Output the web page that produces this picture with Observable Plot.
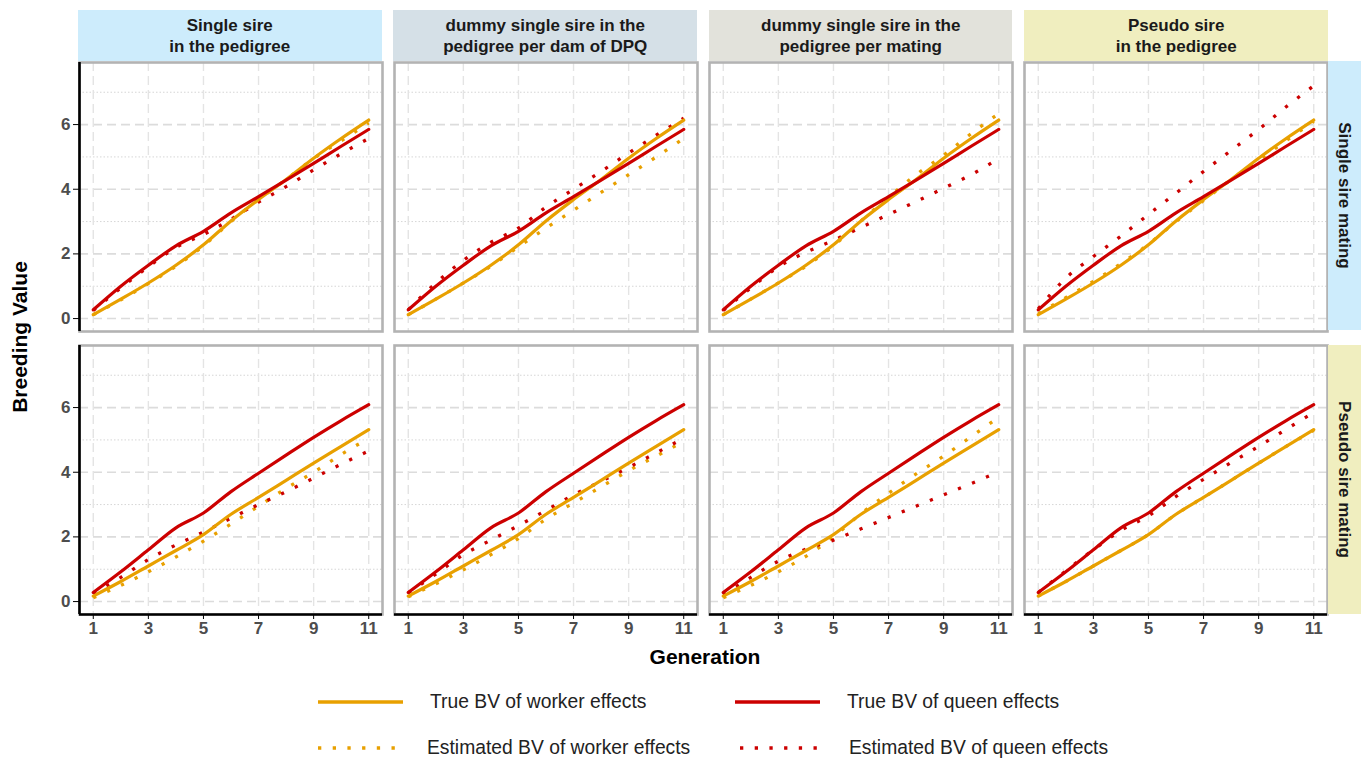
<!DOCTYPE html>
<html>
<head>
<meta charset="utf-8">
<script src="https://cdn.jsdelivr.net/npm/d3@7"></script>
<script src="https://cdn.jsdelivr.net/npm/@observablehq/plot@0.6"></script>
<style>
  html, body { margin: 0; padding: 0; background: #ffffff; }
  #wrap { position: relative; width: 1368px; height: 760px; font-family: "Liberation Sans", Arial, sans-serif; overflow: hidden; }
  #chart { position: absolute; left: 0; top: 0; }
  .strip { position: absolute; display: flex; align-items: center; justify-content: center; text-align: center;
           font-weight: bold; font-size: 17px; line-height: 21px; color: #1a1a1a; }
  .rstrip span { display: inline-block; transform: rotate(90deg); white-space: nowrap; }
  .title { position: absolute; font-weight: bold; font-size: 21px; color: #000; white-space: nowrap; }
  .leg { position: absolute; font-size: 19.3px; color: #222; white-space: nowrap; line-height: 1; }
  svg g[aria-label="y-axis tick label"], svg g[aria-label="x-axis tick label"] { fill: #4d4d4d; font-weight: bold; }
  svg g[aria-label="y-axis tick"], svg g[aria-label="x-axis tick"] { stroke: #333; }
</style>
</head>
<body>
<div id="wrap">
  <div id="chart"></div>
</div>
<script>
// ---------------- data ----------------
const generations = [1, 2, 3, 4, 5, 6, 7, 8, 9, 10, 11];
const columns = [
  "Single sire\nin the pedigree",
  "dummy single sire in the\npedigree per dam of DPQ",
  "dummy single sire in the\npedigree per mating",
  "Pseudo sire\nin the pedigree"
];
const rows = ["Single sire mating", "Pseudo sire mating"];
const seriesNames = [
  "True BV of worker effects",
  "True BV of queen effects",
  "Estimated BV of worker effects",
  "Estimated BV of queen effects"
];
const xTicks = [1, 3, 5, 7, 9, 11];
const yTicks = [0, 2, 4, 6];
const yMinorTicks = [1, 3, 5, 7];

// true breeding values (identical across pedigree schemes within a mating scheme)
const trueWorkerSingle = [0.12, 0.60, 1.10, 1.65, 2.28, 3.02, 3.68, 4.30, 4.96, 5.57, 6.14];
const trueQueenSingle  = [0.27, 1.00, 1.65, 2.25, 2.70, 3.27, 3.77, 4.28, 4.80, 5.33, 5.85];
const trueWorkerPseudo = [0.17, 0.62, 1.10, 1.58, 2.07, 2.70, 3.22, 3.75, 4.28, 4.80, 5.32];
const trueQueenPseudo  = [0.28, 0.92, 1.60, 2.28, 2.74, 3.40, 3.97, 4.53, 5.08, 5.60, 6.09];

// estimated breeding values, one array per pedigree scheme (column order)
const estWorkerSingle = [
  [0.12, 0.58, 1.08, 1.62, 2.25, 3.00, 3.68, 4.30, 4.95, 5.50, 6.05],
  [0.12, 0.60, 1.10, 1.62, 2.22, 2.80, 3.35, 3.90, 4.45, 5.00, 5.57],
  [0.12, 0.60, 1.10, 1.62, 2.25, 3.02, 3.75, 4.45, 5.05, 5.72, 6.34],
  [0.15, 0.65, 1.15, 1.70, 2.30, 3.00, 3.65, 4.30, 4.90, 5.50, 6.10]
];
const estQueenSingle = [
  [0.25, 0.95, 1.60, 2.20, 2.60, 3.07, 3.60, 4.08, 4.60, 5.10, 5.57],
  [0.27, 1.10, 1.80, 2.36, 2.80, 3.45, 4.00, 4.55, 5.12, 5.67, 6.20],
  [0.25, 0.95, 1.60, 2.05, 2.42, 2.82, 3.22, 3.62, 4.03, 4.45, 4.95],
  [0.30, 1.25, 1.92, 2.55, 3.22, 3.88, 4.55, 5.20, 5.85, 6.55, 7.20]
];
const estWorkerPseudo = [
  [0.12, 0.50, 0.92, 1.38, 1.87, 2.40, 2.95, 3.50, 4.00, 4.55, 5.05],
  [0.15, 0.55, 0.98, 1.45, 1.95, 2.55, 3.05, 3.55, 4.05, 4.50, 4.95],
  [0.12, 0.50, 0.92, 1.40, 2.00, 2.72, 3.35, 3.95, 4.50, 5.10, 5.70],
  [0.17, 0.62, 1.10, 1.58, 2.07, 2.70, 3.22, 3.75, 4.28, 4.80, 5.30]
];
const estQueenPseudo = [
  [0.25, 0.75, 1.30, 1.75, 2.15, 2.58, 3.00, 3.40, 3.82, 4.25, 4.66],
  [0.27, 0.85, 1.45, 1.90, 2.35, 2.82, 3.30, 3.72, 4.15, 4.60, 5.05],
  [0.20, 0.75, 1.25, 1.62, 1.90, 2.25, 2.60, 2.95, 3.30, 3.65, 4.02],
  [0.28, 0.95, 1.60, 2.20, 2.65, 3.25, 3.78, 4.30, 4.80, 5.33, 5.85]
];

const headerColors = ["#cdecfc", "#d5e0e7", "#e2e2db", "#f0eebf"];
const rowStripColors = ["#cdecfc", "#f0eebf"];
const seriesColors = ["#e8a000", "#cc0000", "#e8a000", "#cc0000"];

// ---------------- build table ----------------
const table = [];
columns.forEach((col, ci) => {
  rows.forEach((row, ri) => {
    const sets = ri === 0
      ? [trueWorkerSingle, trueQueenSingle, estWorkerSingle[ci], estQueenSingle[ci]]
      : [trueWorkerPseudo, trueQueenPseudo, estWorkerPseudo[ci], estQueenPseudo[ci]];
    sets.forEach((vals, si) => {
      generations.forEach((g, gi) => {
        table.push({scheme: col, mating: row, series: seriesNames[si], estimated: si >= 2, gen: g, value: vals[gi]});
      });
    });
  });
});

const xDomain = [0.5, 11.5];
const yDomain = [-0.4, 7.92];
const W = 1368, H = 680;
const mTop = 61, mLeft = 78, mRight = 40, mBottom = 66;
const fxPad = 0.038, fyPad = 0.05;

const leftAxisCells = rows.map(r => ({fx: columns[0], fy: r}));
const bottomAxisCells = columns.map(c => ({fx: c, fy: rows[rows.length - 1]}));

const color = Plot.scale({color: {domain: seriesNames, range: seriesColors}});

const chart = Plot.plot({
  width: W, height: H,
  marginTop: mTop, marginLeft: mLeft, marginRight: mRight, marginBottom: mBottom,
  style: {fontFamily: '"Liberation Sans", Arial, sans-serif', background: "transparent"},
  x: {domain: xDomain},
  y: {domain: yDomain},
  fx: {domain: columns, padding: fxPad, axis: null},
  fy: {domain: rows, padding: fyPad, axis: null},
  color: {domain: seriesNames, range: seriesColors},
  marks: [
    Plot.gridY({ticks: yMinorTicks, stroke: "#d6d6d6", strokeOpacity: 1, strokeWidth: 1, strokeDasharray: "1.5,2"}),
    Plot.gridY({ticks: yTicks, stroke: "#dcdcdc", strokeOpacity: 1, strokeWidth: 1.6, strokeDasharray: "9,5"}),
    Plot.gridX({ticks: xTicks, stroke: "#e4e4e4", strokeOpacity: 1, strokeWidth: 1.4, strokeDasharray: "9,5"}),
    Plot.frame({stroke: "#b3b3b3", strokeWidth: 2.6}),
    Plot.line(table.filter(d => d.estimated), {
      x: "gen", y: "value", z: "series", stroke: "series", fx: "scheme", fy: "mating",
      strokeWidth: 3.3, strokeDasharray: "3.2,12", strokeLinecap: "butt", curve: "monotone-x"
    }),
    Plot.line(table.filter(d => !d.estimated), {
      x: "gen", y: "value", z: "series", stroke: "series", fx: "scheme", fy: "mating",
      strokeWidth: 3.2, curve: "monotone-x"
    }),
    Plot.axisY({ticks: yTicks, tickSize: 6, tickPadding: 3, fontSize: 17, fontWeight: "bold", label: null}),
    Plot.axisX({ticks: xTicks, tickSize: 5, tickPadding: 2, fontSize: 17, fontWeight: "bold", label: null}),
    Plot.ruleX(leftAxisCells, {x: xDomain[0], fx: "fx", fy: "fy", stroke: "#000", strokeWidth: 2.6}),
    Plot.ruleY(bottomAxisCells, {y: yDomain[0], fx: "fx", fy: "fy", stroke: "#000", strokeWidth: 2.6})
  ]
});
document.getElementById("chart").appendChild(chart);

// ---------------- strips, titles (HTML) ----------------
const wrap = document.getElementById("wrap");
const innerW = W - mLeft - mRight;
const innerH = H - mTop - mBottom;
const fxStep = innerW / (columns.length - fxPad);
const fxBand = fxStep * (1 - fxPad);
const fyStep = innerH / (rows.length - fyPad);
const fyBand = fyStep * (1 - fyPad);

columns.forEach((c, i) => {
  const d = document.createElement("div");
  d.className = "strip";
  d.style.left = (mLeft + i * fxStep) + "px";
  d.style.width = fxBand + "px";
  d.style.top = "10px";
  d.style.height = (mTop - 10) + "px";
  d.style.background = headerColors[i];
  d.innerHTML = c.split("\n").join("<br>");
  wrap.appendChild(d);
});
rows.forEach((r, i) => {
  const d = document.createElement("div");
  d.className = "strip rstrip";
  d.style.left = (W - mRight) + "px";
  d.style.width = "33px";
  d.style.top = (mTop + i * fyStep) + "px";
  d.style.height = fyBand + "px";
  d.style.background = rowStripColors[i];
  const s = document.createElement("span");
  s.textContent = r;
  d.appendChild(s);
  wrap.appendChild(d);
});

const yt = document.createElement("div");
yt.className = "title";
yt.textContent = "Breeding Value";
yt.style.left = "20px"; yt.style.top = "337px";
yt.style.transform = "translate(-50%,-50%) rotate(-90deg)";
wrap.appendChild(yt);

const xt = document.createElement("div");
xt.className = "title";
xt.textContent = "Generation";
xt.style.left = "705px"; xt.style.top = "657px";
xt.style.transform = "translate(-50%,-50%)";
wrap.appendChild(xt);

// ---------------- legend ----------------
const legendItems = [
  {name: seriesNames[0], x1: 318, x2: 403, y: 702, tx: 430, dashed: false},
  {name: seriesNames[1], x1: 735, x2: 820, y: 702, tx: 847, dashed: false},
  {name: seriesNames[2], x1: 318, x2: 400, y: 748, tx: 427, dashed: true},
  {name: seriesNames[3], x1: 740, x2: 822, y: 748, tx: 849, dashed: true}
];
const ns = "http://www.w3.org/2000/svg";
const lsvg = document.createElementNS(ns, "svg");
lsvg.setAttribute("width", W); lsvg.setAttribute("height", 760);
lsvg.style.position = "absolute"; lsvg.style.left = "0"; lsvg.style.top = "0"; lsvg.style.pointerEvents = "none";
wrap.appendChild(lsvg);
legendItems.forEach(it => {
  const l = document.createElementNS(ns, "line");
  l.setAttribute("x1", it.x1); l.setAttribute("x2", it.x2);
  l.setAttribute("y1", it.y); l.setAttribute("y2", it.y);
  l.setAttribute("stroke", color.apply(it.name));
  l.setAttribute("stroke-width", it.dashed ? 3.3 : 3.6);
  if (it.dashed) l.setAttribute("stroke-dasharray", "3.3,11.4");
  lsvg.appendChild(l);
  const t = document.createElement("div");
  t.className = "leg";
  t.textContent = it.name;
  t.style.left = it.tx + "px";
  t.style.top = (it.y - 10) + "px";
  wrap.appendChild(t);
});
</script>
</body>
</html>
